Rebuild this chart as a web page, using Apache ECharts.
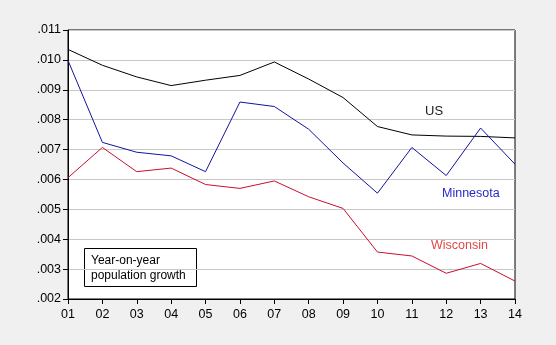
<!DOCTYPE html>
<html><head><meta charset="utf-8">
<script src="https://cdn.jsdelivr.net/npm/echarts@6/dist/echarts.min.js"></script>
<style>html,body{margin:0;padding:0;background:#f0f0f0;}#c{width:556px;height:345px;}</style>
</head><body><div id="c"></div>
<script>
const categories = ['01','02','03','04','05','06','07','08','09','10','11','12','13','14'];
const usValues = [0.01035,0.00982,0.00943,0.00914,0.00932,0.00948,0.00993,0.00936,0.00874,0.00777,0.00749,0.00745,0.00744,0.00739];
const minnesotaValues = [0.00998,0.00724,0.00691,0.00679,0.00626,0.00859,0.00844,0.00768,0.00655,0.00554,0.00707,0.00613,0.00772,0.00651];
const wisconsinValues = [0.00606,0.00707,0.00626,0.00638,0.00583,0.00570,0.00595,0.00542,0.00503,0.00357,0.00344,0.00286,0.00319,0.00260];
const yMin = 0.002, yMax = 0.011, yStep = 0.001;

const font = 'Arial, "Liberation Sans", sans-serif';
const chart = echarts.init(document.getElementById('c'), null, {renderer:'canvas'});
function mkSeries(name, data, color){
  return {name, type:'line', data, symbol:'none', animation:false,
    lineStyle:{color, width:1}, itemStyle:{color}};
}
chart.setOption({
  backgroundColor:'#f0f0f0',
  animation:false,
  grid:{left:68, right:41, top:30, bottom:46, show:true, backgroundColor:'#ffffff', borderColor:'#000', borderWidth:1},
  xAxis:{type:'category', data:categories, boundaryGap:false,
    axisLine:{lineStyle:{color:'#000', width:1}},
    axisTick:{show:true, length:5, inside:false, alignWithLabel:true, lineStyle:{color:'#000'}},
    axisLabel:{color:'#000', fontSize:12.5, fontFamily:font, margin:9},
    splitLine:{show:false}},
  yAxis:{type:'value', min:yMin, max:yMax, interval:yStep,
    axisLine:{show:true, lineStyle:{color:'#000', width:1}},
    axisTick:{show:true, length:5, lineStyle:{color:'#000'}},
    axisLabel:{color:'#000', fontSize:12.5, fontFamily:font, margin:7,
      formatter:v=>v.toFixed(3).replace(/^0/,'')},
    splitLine:{show:true, lineStyle:{color:'#c8c8c8', width:1}}},
  series:[
    mkSeries('US', usValues, '#000000'),
    mkSeries('Minnesota', minnesotaValues, '#1414a0'),
    mkSeries('Wisconsin', wisconsinValues, '#c8102e')
  ],
  graphic:[
    {type:'text', left:425, top:105, style:{text:'US', fill:'#202020', font:'13px '+font}},
    {type:'text', left:442, top:187, style:{text:'Minnesota', fill:'#2a2ac8', font:'12.5px '+font}},
    {type:'text', left:431, top:239, style:{text:'Wisconsin', fill:'#e04848', font:'12.5px '+font}},
    {type:'rect', shape:{x:84.5, y:248.5, width:112, height:38}, style:{fill:'#fff', stroke:'#000', lineWidth:1}},
    {type:'text', left:91, top:253, style:{text:'Year-on-year\npopulation growth', fill:'#000', font:'12px '+font, lineHeight:15}}
  ]
});
</script></body></html>
